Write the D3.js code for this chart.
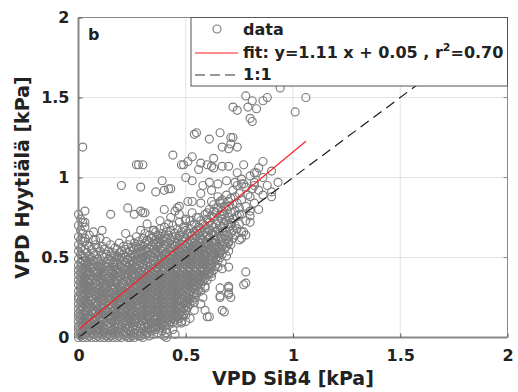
<!DOCTYPE html>
<html>
<head>
<meta charset="utf-8">
<script src="https://cdn.jsdelivr.net/npm/d3@7"></script>
<style>
  body { margin: 0; background: #fff; }
  text { font-family: "DejaVu Sans", sans-serif; font-weight: bold; fill: #222; }
</style>
</head>
<body>
<div id="chart"></div>
<script>
// VPD in hundredths of a kPa.
// dense columns: [SiB4 value, then every Hyytiala value seen at that SiB4 value]
const nearOrigin = [
  [0, 0,2,5,7,10,13,15,18,21,24,26,29,33,36,39,42,45,49,54,58,63,70,77],
  [1, 1,3,6,9,12,14,17,20,23,27,30,32,35,38,41,44,47,52,56,61,67,74],
  [2, 0,4,7,8,11,15,19,22,25,28,31,34,37,40,43,48,51,60,65,72],
  [3, 2,5,9,12,14,16,20,23,26,30,33,36,38,42,46,50,55,62,69],
  [4, 0,3,6,10,13,17,19,22,27,29,32,35,39,41,45,48,53,58],
  [5, 1,4,8,11,14,18,21,25,28,31,34,37,40,44,47,51,57,64],
  [6, 0,3,5,9,12,16,19,23,26,30,32,36,39,43,46,50,55],
  [7, 2,6,8,11,15,17,21,24,27,29,33,37,41,44,48,53,61],
  [8, 0,4,7,10,13,16,20,22,26,31,34,36,40,42,47,52,58],
  [9, 1,3,6,9,14,18,21,25,28,30,33,38,41,45,49,56],
  [10, 0,5,8,12,15,17,20,24,27,31,35,37,40,44,48,54,62],
  [11, 2,4,7,11,13,16,19,23,26,29,32,36,39,43,46,51,57],
  [12, 0,3,6,10,14,18,21,24,28,30,34,38,41,45,50,55],
  [13, 1,5,8,12,15,17,22,25,27,31,33,37,40,44,47,52,60],
  [14, 0,2,6,9,13,16,20,23,26,29,35,38,42,46,49,54],
  [15, 1,4,7,11,14,18,21,24,28,32,34,36,40,43,48,51,58]
];
const band = [
  [16, 0,3,5,10,12,16,19,22,27,30,33,37,41,44,47,53],
  [17, 2,6,9,13,15,18,21,25,28,31,35,39,42,45,50,56],
  [18, 0,4,8,11,14,17,20,24,26,29,33,36,40,43,47,51,55],
  [19, 1,3,7,10,13,16,22,23,27,30,32,38,41,45,49,53,59],
  [20, 0,5,8,12,15,18,21,25,28,31,34,37,40,44,46,50,54],
  [21, 2,4,9,11,14,17,20,24,27,29,33,36,39,43,48,52,57],
  [22, 1,3,6,10,13,16,19,23,26,30,35,38,42,45,47,51,55],
  [23, 0,5,8,12,14,18,22,25,28,31,33,37,40,44,49,53,58],
  [24, 2,4,7,11,15,17,20,24,27,30,34,36,41,43,46,50,54,61],
  [25, 1,6,9,13,16,19,21,23,26,29,32,38,39,42,45,48,52,56],
  [26, 0,3,8,10,12,17,22,25,28,31,35,37,40,44,47,51,55,59],
  [27, 2,5,7,11,14,16,20,24,27,30,33,36,39,43,46,49,53,57,63],
  [28, 1,4,9,12,15,18,21,23,26,29,32,35,38,41,45,48,52,56,60],
  [29, 3,6,8,13,16,19,22,25,28,31,34,37,40,42,47,50,54,58],
  [30, 0,5,10,12,14,17,20,24,27,30,33,36,39,44,46,49,53,57,62],
  [31, 2,4,7,11,15,18,21,23,26,29,32,35,38,41,43,48,51,55,59,65],
  [32, 3,6,9,13,16,19,22,25,28,31,34,37,40,45,47,50,54,58,61],
  [33, 1,5,8,12,14,17,21,24,27,30,33,36,39,42,44,49,52,56,60,64],
  [34, 4,7,10,15,18,20,23,26,29,32,35,38,41,43,46,51,53,57,62],
  [35, 2,6,9,11,13,16,19,22,25,28,31,34,37,40,45,48,50,55,59,63,67],
  [36, 5,8,12,14,17,21,24,27,30,33,36,39,42,44,47,52,54,58,61,66],
  [37, 3,7,10,13,16,19,22,26,29,32,35,38,41,43,46,49,53,57,60,64],
  [38, 6,9,11,15,18,20,23,25,28,31,34,37,40,45,48,51,55,59,62,68],
  [39, 4,8,12,14,17,21,24,27,30,33,36,39,42,44,47,50,54,56,61,65],
  [40, 7,10,13,16,19,22,26,29,32,35,38,41,43,46,49,52,57,60,63,69]
];
const bandUpper = [
  [41, 5,9,12,15,18,20,23,25,28,31,34,37,40,45,48,51,53,58,62,66],
  [42, 8,11,14,17,21,24,27,30,33,36,39,42,44,47,50,55,59,64,71],
  [43, 10,13,16,19,22,26,29,32,35,38,41,43,46,49,52,56,61,67],
  [44, 9,12,15,18,20,23,25,28,31,34,37,40,45,48,51,54,58,63,70],
  [45, 11,14,17,21,24,27,30,33,36,39,42,44,47,50,53,57,60,65],
  [46, 13,16,19,22,26,29,32,35,38,41,43,46,49,52,55,59,62,68],
  [47, 12,15,18,20,23,25,28,31,34,37,40,45,48,51,54,58,64,72],
  [48, 16,19,22,24,27,30,33,36,39,42,44,47,50,53,56,61,66],
  [49, 14,18,21,25,29,32,35,38,41,43,46,49,52,55,60,63,69],
  [50, 17,20,23,26,28,31,34,37,40,45,48,51,54,57,62,67,74],
  [51, 19,22,25,30,33,36,39,42,44,47,50,53,56,59,65],
  [52, 21,24,27,29,32,35,38,41,43,46,49,52,55,58,61,68,73],
  [53, 23,26,31,34,37,40,45,48,51,54,57,60,64,70],
  [54, 25,28,30,33,36,39,42,44,47,50,53,56,59,62,66,71],
  [55, 27,32,35,38,41,43,46,49,52,55,58,63,67,75],
  [56, 30,34,37,40,45,48,51,54,57,60,65,69],
  [57, 29,33,36,39,42,44,47,50,53,56,59,62,68,73],
  [58, 35,38,41,43,46,49,52,55,61,64,71],
  [59, 32,37,40,45,48,51,54,57,60,66,70,77],
  [60, 36,39,42,44,47,50,53,56,59,63,68,74],
  [61, 41,43,46,49,55,58,62,67,72,80],
  [62, 38,44,48,51,54,57,60,65,70,76],
  [63, 42,47,50,53,56,59,64,69,75,83],
  [64, 45,49,52,55,58,61,66,71,78],
  [65, 44,48,53,57,63,67,73,81,88],
  [66, 50,54,56,60,65,70,76,84],
  [67, 47,52,58,62,68,74,79,86],
  [68, 55,59,64,71,77,82],
  [69, 51,57,61,66,73,80,89],
  [70, 54,60,63,69,75,85],
  [71, 58,65,72,78,87],
  [72, 62,67,74,83,92],
  [73, 64,70,79,88],
  [74, 68,76,84,95],
  [75, 71,81,90],
  [76, 66,77,86,99],
  [78, 73,82,94],
  [80, 76,88,101],
  [82, 84,97],
  [84, 80,92,106],
  [86, 89,100],
  [88, 95],
  [90, 88,104],
  [93, 97]
];
// sparse points: [SiB4, Hyytiala]
const outliers = [[2,119],[27,108],[28,108],[30,108],[44,114],[48,108],[51,110],[53,113],[54,127],[94,156],[78,151],[81,148],[86,148],[88,150],[106,150],[101,141],[72,144],[74,142],[79,144],[83,143],[80,137],[81,135],[55,128],[61,124],[66,128],[71,125],[72,125],[71,121],[67,119],[70,118],[74,119],[63,112],[86,110],[77,108],[57,109],[62,107],[67,107],[70,107],[83,103],[74,103],[20,95],[29,94],[39,98],[36,91],[40,92],[43,93],[50,100],[53,98],[3,79],[3,72],[15,77],[23,81],[26,77],[29,79],[31,78],[7,66],[11,67],[22,65],[29,67],[3,60],[8,61],[32,71],[40,80],[45,79],[47,82],[51,85],[90,91],[80,79],[76,62],[78,64],[71,70],[70,60],[82,95],[81,93],[77,96],[78,41],[77,33],[70,44],[67,43],[62,40],[59,31],[66,31],[70,32],[66,25],[71,25],[70,27],[59,17],[61,13],[68,16],[55,28],[56,38],[40,1],[48,9],[50,14],[24,0],[29,1],[60,13],[67,17],[78,34],[48,14],[41,0],[49,108],[56,105],[60,108],[63,106],[82,103],[42,93],[58,95],[61,97],[65,96],[69,98],[73,97],[76,96],[62,92],[57,90],[79,89],[46,81],[53,85],[57,84],[62,85],[66,85],[70,82],[75,77],[80,72],[77,66],[75,61],[30,78],[35,67],[38,73],[43,75],[47,77],[50,73],[53,78],[56,75],[60,78],[63,79],[67,77],[70,71],[67,66],[63,61],[60,64],[57,61],[52,65],[47,63],[70,59],[66,53],[62,46],[61,40],[57,42],[56,36],[70,31],[70,28],[66,26],[54,22],[50,22],[47,15],[48,10],[50,10],[41,3],[44,5],[46,9],[52,12],[54,17],[57,21],[58,25],[45,2]];

const fitSlope = 1.11;
const fitIntercept = 0.05;
const fitR2 = '0.70';
const fitRange = [0, 1.06];
const oneToOne = [0, 2];
const xTicks = [0, 0.5, 1, 1.5, 2];
const yTicks = [0, 0.5, 1, 1.5, 2];

const points = [];
[].concat(nearOrigin, band, bandUpper).forEach(col => {
  col.slice(1).forEach(v => points.push({ sib: col[0] / 100, hyy: v / 100 }));
});
outliers.forEach(p => points.push({ sib: p[0] / 100, hyy: p[1] / 100 }));

const width = 518, height = 392;
const x = d3.scaleLinear().domain([0, 2]).range([78.5, 507.5]);
const y = d3.scaleLinear().domain([0, 2]).range([337.5, 17.5]);

const svg = d3.select('#chart').append('svg')
  .attr('width', width)
  .attr('height', height);

// grid
svg.append('g').selectAll('line')
  .data(xTicks.slice(1, -1))
  .join('line')
  .attr('x1', d => x(d)).attr('x2', d => x(d))
  .attr('y1', y(0)).attr('y2', y(2))
  .attr('stroke', '#e3e3e3').attr('stroke-width', 1);
svg.append('g').selectAll('line')
  .data(yTicks.slice(1, -1))
  .join('line')
  .attr('y1', d => y(d)).attr('y2', d => y(d))
  .attr('x1', x(0)).attr('x2', x(2))
  .attr('stroke', '#e3e3e3').attr('stroke-width', 1);

// scatter
svg.append('g')
  .selectAll('circle')
  .data(points)
  .join('circle')
  .attr('cx', d => x(d.sib))
  .attr('cy', d => y(d.hyy))
  .attr('r', 4)
  .attr('fill', 'none')
  .attr('stroke', '#7c7c7c')
  .attr('stroke-width', 1.15);

// fit and 1:1 lines
svg.append('line')
  .attr('x1', x(fitRange[0])).attr('y1', y(fitSlope * fitRange[0] + fitIntercept))
  .attr('x2', x(fitRange[1])).attr('y2', y(fitSlope * fitRange[1] + fitIntercept))
  .attr('stroke', '#ff1a1a').attr('stroke-width', 1.1);
svg.append('line')
  .attr('x1', x(oneToOne[0])).attr('y1', y(oneToOne[0]))
  .attr('x2', x(oneToOne[1])).attr('y2', y(oneToOne[1]))
  .attr('stroke', '#1a1a1a').attr('stroke-width', 1.2)
  .attr('stroke-dasharray', '10,6');

// axes box
const box = svg.append('g');
box.append('line').attr('x1', x(0)).attr('x2', x(2)).attr('y1', y(2)).attr('y2', y(2)).attr('stroke', '#8a8a8a').attr('stroke-width', 1);
box.append('line').attr('x1', x(2)).attr('x2', x(2)).attr('y1', y(0)).attr('y2', y(2)).attr('stroke', '#8a8a8a').attr('stroke-width', 1);
box.append('line').attr('x1', x(0) - 1).attr('x2', x(2)).attr('y1', y(0)).attr('y2', y(0)).attr('stroke', '#888').attr('stroke-width', 2);
box.append('line').attr('x1', x(0)).attr('x2', x(0)).attr('y1', y(0)).attr('y2', y(2)).attr('stroke', '#888').attr('stroke-width', 2);

// axes with inward ticks
const xAxis = svg.append('g')
  .attr('transform', `translate(0,${y(0)})`)
  .call(d3.axisBottom(x).tickValues(xTicks).tickFormat(d3.format('')).tickSizeInner(-4).tickSizeOuter(0).tickPadding(12));
const yAxis = svg.append('g')
  .attr('transform', `translate(${x(0)},0)`)
  .call(d3.axisLeft(y).tickValues(yTicks).tickFormat(d3.format('')).tickSizeInner(-4).tickSizeOuter(0).tickPadding(9));
[xAxis, yAxis].forEach(a => {
  a.select('.domain').remove();
  a.selectAll('.tick line').attr('stroke', '#555');
  a.selectAll('.tick text').attr('font-size', 16).attr('fill', '#222')
    .style('font-family', '"DejaVu Sans", sans-serif').style('font-weight', 'bold');
});
svg.append('g').selectAll('line')
  .data(yTicks.slice(1, -1))
  .join('line')
  .attr('x1', x(2)).attr('x2', x(2) - 4)
  .attr('y1', d => y(d)).attr('y2', d => y(d))
  .attr('stroke', '#888');

// axis labels
svg.append('text')
  .attr('x', x(1)).attr('y', 385)
  .attr('text-anchor', 'middle')
  .attr('font-size', 19)
  .text('VPD SiB4 [kPa]');
svg.append('text')
  .attr('transform', `translate(29,${y(1)}) rotate(-90)`)
  .attr('text-anchor', 'middle')
  .attr('font-size', 19)
  .text('VPD Hyytiälä [kPa]');

// panel letter
svg.append('text')
  .attr('x', 88).attr('y', 40)
  .attr('font-size', 16)
  .text('b');

// legend
const legend = svg.append('g');
legend.append('rect')
  .attr('x', 191).attr('y', y(2))
  .attr('width', x(2) - 191).attr('height', 68.5)
  .attr('fill', '#fff')
  .attr('stroke', '#555').attr('stroke-width', 1);
legend.append('circle')
  .attr('cx', 217).attr('cy', 29).attr('r', 4)
  .attr('fill', 'none').attr('stroke', '#7c7c7c').attr('stroke-width', 1.15);
legend.append('line')
  .attr('x1', 195).attr('x2', 238).attr('y1', 53).attr('y2', 53)
  .attr('stroke', '#ff1a1a');
legend.append('line')
  .attr('x1', 195).attr('x2', 238).attr('y1', 75).attr('y2', 75)
  .attr('stroke', '#333').attr('stroke-width', 1.2).attr('stroke-dasharray', '10,5');
legend.append('text').attr('x', 243).attr('y', 35).attr('font-size', 16).text('data');
const fitText = legend.append('text').attr('x', 243).attr('y', 58).attr('font-size', 16);
fitText.append('tspan').text(`fit: y=${fitSlope} x + ${fitIntercept.toFixed(2)} , r`);
fitText.append('tspan').attr('dy', -7).attr('font-size', 11).text('2');
fitText.append('tspan').attr('dy', 7).text('=' + fitR2);
legend.append('text').attr('x', 243).attr('y', 80).attr('font-size', 16).text('1:1');
</script>
</body>
</html>
